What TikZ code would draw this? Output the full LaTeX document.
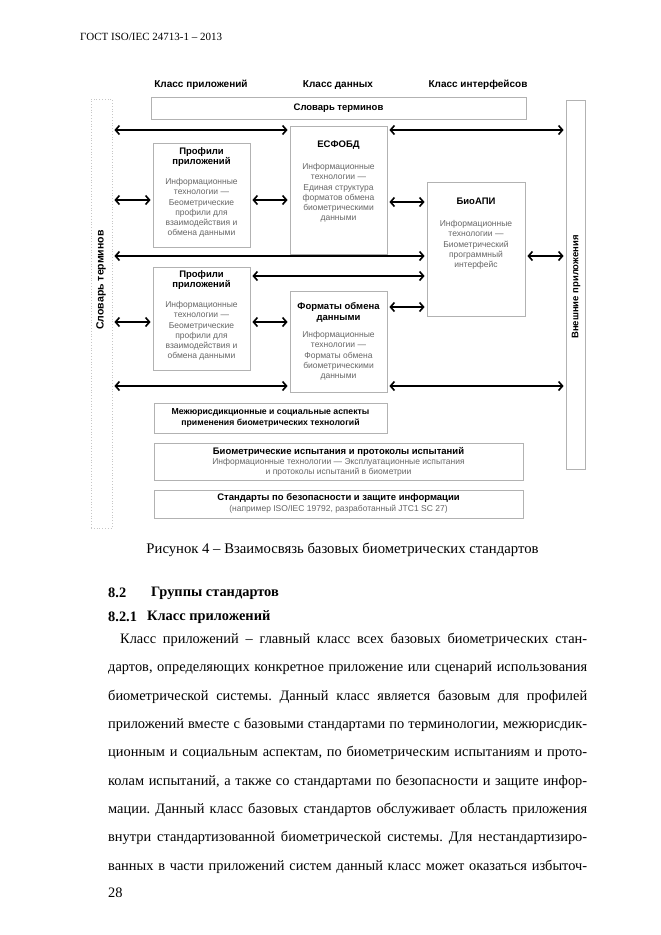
\documentclass[tikz,border=0pt]{standalone}
\usepackage{fontspec}
\setmainfont{Liberation Serif}
\newfontfamily\diagfont{Liberation Sans}
\usetikzlibrary{arrows.meta, positioning}
\frenchspacing

\tikzset{
    box/.style={rectangle, draw=gray!60, line width=0.8pt, inner sep=0pt},
    faintbox/.style={box, draw=gray!45, dotted},
    title/.style={font=\diagfont\bfseries\fontsize{9.5}{10.5}\selectfont, align=center, inner sep=0pt},
    desc/.style={font=\diagfont\fontsize{8.5}{10.3}\selectfont, text=black!60, align=center, inner sep=0pt},
    link/.style={line width=2pt, {Straight Barb[length=4pt,width=9pt,line width=1.6pt]}-{Straight Barb[length=4pt,width=9pt,line width=1.6pt]}, shorten >=2pt, shorten <=2pt},
    bodytext/.style={font=\fontsize{14.4}{17}\selectfont, anchor=west, inner sep=0pt},
}

\begin{document}
\begin{tikzpicture}[x=1pt, y=-1pt]
    \fill[white] (0,0) rectangle (661,935);
    \useasboundingbox (0,0) rectangle (661,935);

    % page header
    \node[bodytext, font=\fontsize{11}{13}\selectfont] (header) at (80,37) {ГОСТ ISO/IEC 24713-1 – 2013};

    % class labels
    \node[title, font=\diagfont\bfseries\fontsize{10}{12}\selectfont] (clsapp) at (201,85) {Класс приложений};
    \node[title, font=\diagfont\bfseries\fontsize{10}{12}\selectfont] (clsdata) at (338,85) {Класс данных};
    \node[title, font=\diagfont\bfseries\fontsize{10}{12}\selectfont] (clsint) at (478,85) {Класс интерфейсов};

    % frames
    \node[faintbox, minimum width=21pt, minimum height=429pt] (slovarL) at (101.5,313.5) {};
    \node[title, font=\diagfont\bfseries\fontsize{10.5}{12}\selectfont, rotate=90] at (101,280) {Словарь терминов};
    \node[box, minimum width=375pt, minimum height=22pt] (slovarT) at (338.5,108) {};
    \node[title] at (338.5,108) {Словарь терминов};
    \node[box, minimum width=19pt, minimum height=369pt] (vneshn) at (575.5,284.5) {};
    \node[title, rotate=90] at (576,287) {Внешние приложения};

    % application profiles
    \node[box, minimum width=97pt, minimum height=104pt] (prof1) at (201.5,195) {};
    \node[title] at (201.5,157) {Профили\\приложений};
    \node[desc] at (201.5,208) {Информационные\\технологии —\\Беометрические\\профили для\\взаимодействия и\\обмена данными};
    \node[box, minimum width=97pt, minimum height=103pt] (prof2) at (201.5,318.5) {};
    \node[title] at (201.5,280) {Профили\\приложений};
    \node[desc] at (201.5,331) {Информационные\\технологии —\\Беометрические\\профили для\\взаимодействия и\\обмена данными};

    % data formats
    \node[box, minimum width=97pt, minimum height=128pt] (esfobd) at (338.5,190) {};
    \node[title] at (338.5,145) {ЕСФОБД};
    \node[desc] at (338.5,193) {Информационные\\технологии —\\Единая структура\\форматов обмена\\биометрическими\\данными};
    \node[box, minimum width=97pt, minimum height=101pt] (formaty) at (338.5,341.5) {};
    \node[title] at (338.5,312.5) {Форматы обмена\\данными};
    \node[desc] at (338.5,356) {Информационные\\технологии —\\Форматы обмена\\биометрическими\\данными};

    % interface
    \node[box, minimum width=98pt, minimum height=134pt] (bioapi) at (476,249) {};
    \node[title] at (476,201) {БиоАПИ};
    \node[desc] at (476,245) {Информационные\\технологии —\\Биометрический\\программный\\интерфейс};

    % lower standards
    \node[box, minimum width=233pt, minimum height=30pt] (mezh) at (270.5,418) {};
    \node[title, font=\diagfont\bfseries\fontsize{8.7}{10.3}\selectfont] at (270.5,418) {Межюрисдикционные и социальные аспекты\\применения биометрических технологий};
    \node[box, minimum width=369pt, minimum height=37pt] (ispyt) at (338.5,461.5) {};
    \node[title] at (338.5,451.5) {Биометрические испытания и протоколы испытаний};
    \node[desc] at (338.5,467) {Информационные технологии — Эксплуатационные испытания\\и протоколы испытаний в биометрии};
    \node[box, minimum width=369pt, minimum height=28pt] (standart) at (338.5,504) {};
    \node[title] at (338.5,497.5) {Стандарты по безопасности и защите информации};
    \node[desc] at (338.5,509.5) {(например ISO/IEC 19792, разработанный JTC1 SC 27)};

    % arrow levels
    \coordinate (r130) at (0,130);
    \coordinate (r200) at (0,200);
    \coordinate (r202) at (0,202);
    \coordinate (r256) at (0,256);
    \coordinate (r276) at (0,276);
    \coordinate (r307) at (0,307);
    \coordinate (r322) at (0,322);
    \coordinate (r386) at (0,386);

    \draw[link] (slovarL.east |- r130) -- (esfobd.west |- r130);
    \draw[link] (esfobd.east |- r130) -- (vneshn.west |- r130);
    \draw[link] (slovarL.east |- r200) -- (prof1.west |- r200);
    \draw[link] (prof1.east |- r200) -- (esfobd.west |- r200);
    \draw[link] (esfobd.east |- r202) -- (bioapi.west |- r202);
    \draw[link] (slovarL.east |- r256) -- (bioapi.west |- r256);
    \draw[link] (bioapi.east |- r256) -- (vneshn.west |- r256);
    \draw[link] (prof2.east |- r276) -- (bioapi.west |- r276);
    \draw[link] (formaty.east |- r307) -- (bioapi.west |- r307);
    \draw[link] (slovarL.east |- r322) -- (prof2.west |- r322);
    \draw[link] (prof2.east |- r322) -- (formaty.west |- r322);
    \draw[link] (slovarL.east |- r386) -- (formaty.west |- r386);
    \draw[link] (formaty.east |- r386) -- (vneshn.west |- r386);

    % caption and headings
    \node[bodytext, font=\fontsize{14.7}{17}\selectfont, anchor=center] (caption) at (342.5,550) {Рисунок 4 – Взаимосвязь базовых биометрических стандартов};
    \node[bodytext, font=\bfseries\fontsize{14.4}{17}\selectfont] (sec) at (108,593) {8.2};
    \node[bodytext, font=\bfseries\fontsize{14.4}{17}\selectfont] (sectxt) at (151,593) {Группы стандартов};
    \node[bodytext, font=\bfseries\fontsize{14.4}{17}\selectfont] (subsec) at (108,617) {8.2.1};
    \node[bodytext, font=\bfseries\fontsize{14.4}{17}\selectfont] (subsectxt) at (147,617) {Класс приложений};

    % body text
    \node[bodytext] (line1) at (120,640) {\hbox to 467pt{Класс приложений – главный класс всех базовых биометрических стан-}};
    \foreach \txt [count=\i from 2] in {
        {дартов, определяющих конкретное приложение или сценарий использования},
        {биометрической системы. Данный класс является базовым для профилей},
        {приложений вместе с базовыми стандартами по терминологии, межюрисдик-},
        {ционным и социальным аспектам, по биометрическим испытаниям и прото-},
        {колам испытаний, а также со стандартами по безопасности и защите инфор-},
        {мации. Данный класс базовых стандартов обслуживает область приложения},
        {внутри стандартизованной биометрической системы. Для нестандартизиро-},
        {ванных в части приложений систем данный класс может оказаться избыточ-}}
        \node[bodytext] (line\i) at (108,{640+28.3*(\i-1)}) {\hbox to 479pt{\txt}};

    \node[bodytext] (pagenum) at (108,893) {28};
\end{tikzpicture}
\end{document}
